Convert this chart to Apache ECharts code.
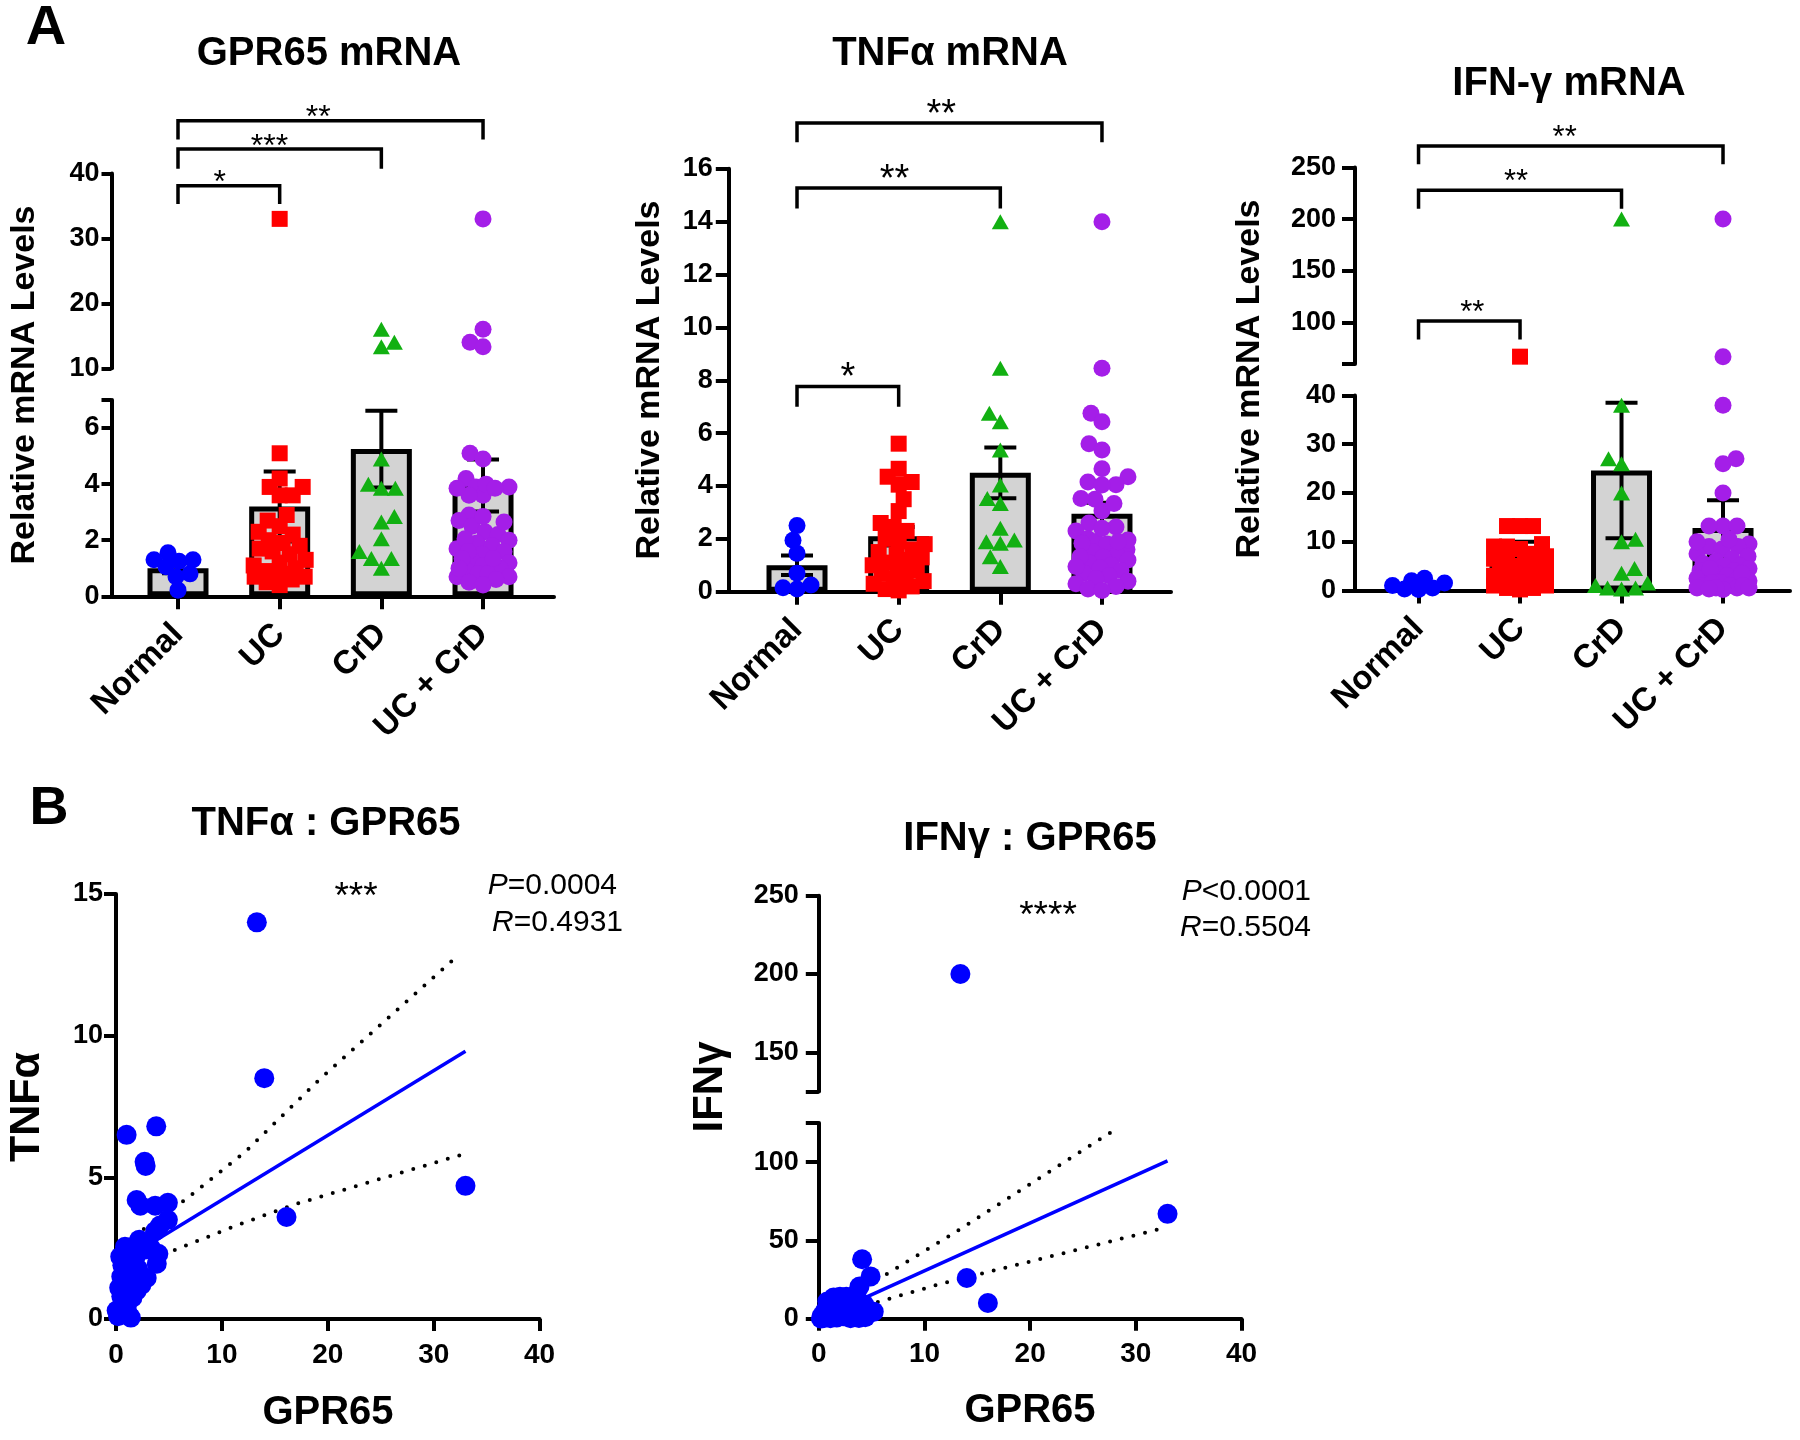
<!DOCTYPE html>
<html><head><meta charset="utf-8">
<script src="https://cdn.jsdelivr.net/npm/echarts@6/dist/echarts.min.js"></script>
<style>html,body{margin:0;padding:0;background:#fff}#c{width:1800px;height:1440px}</style>
</head><body><div id="c"></div><script>
// ---------------- DATA ----------------
const categories = ['Normal', 'UC', 'CrD', 'UC + CrD'];

// A: GPR65 mRNA
const gprNormal = [1.3, 1.25, 1.05, 1.55, 1.3, 0.8, 0.7, 0.22];
const gprUC = [33, 5.1, 4.2, 3.9, 3.9, 3.6, 3.6, 2.9, 2.7, 2.5, 2.3, 2.2, 2.0, 1.9, 1.8, 1.7, 1.6, 1.5, 1.3, 1.2, 1.1, 1.0, 0.9, 0.8, 0.8, 0.7, 0.7, 0.6, 0.5, 0.4];
const gprCrD = [16.0, 14.0, 13.3, 4.9, 4.0, 3.85, 3.85, 2.85, 2.65, 2.05, 1.6, 1.35, 1.35, 1.0];
const gprMean = [1.0, 3.2, 5.25, 3.95];
const gprSem = [0.18, 1.25, 1.37, 0.93];

// A: TNFa mRNA
const tnfNormal = [2.5, 1.95, 1.45, 0.7, 0.25, 0.15, 0.1];
const tnfUC = [5.6, 4.65, 4.35, 4.15, 4.05, 3.5, 3.05, 2.6, 2.45, 2.3, 2.0, 1.9, 1.8, 1.6, 1.5, 1.4, 1.3, 1.2, 1.1, 1.0, 0.9, 0.8, 0.7, 0.6, 0.5, 0.4, 0.3, 0.2, 0.1, 0.05];
const tnfCrD = [14, 8.45, 6.75, 6.43, 5.36, 4.04, 3.53, 3.34, 2.4, 1.96, 1.89, 1.83, 1.32, 0.95];
const tnfMean = [1.0, 2.1, 4.5, 2.95];
const tnfSem = [0.37, 0.35, 0.96, 0.42];

// A: IFN-g mRNA
const ifnNormal = [2.5, 2.0, 1.5, 1.0, 0.5, 0.3, 0.2];
const ifnUC = [67, 13.2, 13.2, 13.2, 9.5, 9.0, 9.0, 8.5, 7.5, 7, 6.5, 6, 5.5, 5, 5, 4.5, 4, 4, 3.5, 3, 3, 2.5, 2, 2, 1.5, 1, 1, 0.5, 0.5, 0.2];
const ifnCrD = [200, 38, 27, 26, 20, 10.5, 10, 4.5, 3.5, 1.5, 1, 0.5, 0.5, 0.3];
const ifnMean = [1.0, 7.2, 24.6, 12.8];
const ifnSem = [0.35, 2.8, 13.9, 5.7];

// tick values
const gprLowerTicks = [0, 2, 4, 6, 7], gprLowerLabels = [0, 2, 4, 6];
const gprUpperTicks = [10, 20, 30, 40];
const tnfTicks = [0, 2, 4, 6, 8, 10, 12, 14, 16];
const ifnLowerTicks = [0, 10, 20, 30, 40];
const ifnUpperTicks = [60, 100, 150, 200, 250], ifnUpperLabels = [100, 150, 200, 250];
const bTnfTicks = [0, 5, 10, 15];
const bIfnLowerTicks = [0, 50, 100, 125], bIfnLowerLabels = [0, 50, 100];
const bIfnUpperTicks = [125, 150, 200, 250], bIfnUpperLabels = [150, 200, 250];
const gprXTicks = [0, 10, 20, 30, 40];

// significance brackets: [fromCat, toCat, lineValue, tipValue, labelX]
const gprBrackets = [[0, 1, 38.1, 35.3, 0.41], [0, 2, 43.75, 40.7, 0.9], [0, 3, 48.1, 45.2, 1.38]];
const gprStars = ['*', '***', '**'];
const tnfBrackets = [[0, 1, 7.76, 7.0, 0.5], [0, 2, 15.27, 14.5, 0.96], [0, 3, 17.73, 17.0, 1.42]];
const tnfStars = ['*', '**', '**'];
const ifnBrackets = [[0, 1, 101.5, 83.6, 0.53], [0, 2, 227.8, 210, 0.96], [0, 3, 270.7, 253, 1.44]];
const ifnStars = ['**', '**', '**'];

// B: TNFa vs GPR65 [GPR65, TNFa]
const tnfVsGpr = [
  [13.3, 14.0], [14.0, 8.5], [33.0, 4.7], [16.1, 3.6],
  [1.0, 6.5], [3.8, 6.8], [2.7, 5.55], [2.8, 5.4], [1.95, 4.2], [2.3, 4.0], [3.7, 4.0], [4.9, 4.1], [4.9, 3.5], [4.15, 3.3], [3.7, 3.1],
  [0.85, 2.55], [1.6, 2.55], [2.75, 2.45], [4.0, 2.3], [3.85, 1.95], [0.4, 2.2], [1.2, 1.95], [2.1, 1.75], [2.9, 1.45], [0.5, 1.5],
  [1.3, 1.15], [1.95, 1.0], [0.5, 0.8], [1.55, 0.75], [0.06, 0.3], [1.2, 0.15], [0.7, 0.55], [0.3, 1.1], [0.9, 1.3], [1.6, 1.6],
  [2.4, 1.2], [1.0, 0.4], [0.2, 0.1], [1.4, 0.05], [0.6, 1.9], [1.8, 2.1], [2.2, 2.8], [3.3, 2.5]
];
const tnfFit = [[0.1, 1.94], [33, 9.45]];
const tnfCiUpper = [[1.64, 2.97], [2.74, 3.2], [6.5, 4.2], [12.2, 5.9], [19.2, 8.45], [32.5, 12.9]];
const tnfCiLower = [[4.5, 2.28], [5.57, 2.44], [11.08, 3.26], [16.74, 4.03], [33, 5.84]];

// B: IFNg vs GPR65 [GPR65, IFNg]
const ifnVsGpr = [
  [13.4, 200], [33, 67], [14, 26], [16, 10],
  [4.1, 38], [4.9, 27], [3.85, 20.5], [2.0, 14], [1.4, 13.5], [2.6, 14], [3.4, 15], [5.2, 4.5],
  [0.3, 2], [0.6, 5], [0.9, 8], [1.2, 3], [1.5, 10], [1.8, 6], [2.2, 9], [2.5, 4], [2.8, 11], [3.1, 7], [3.3, 2], [3.6, 5],
  [3.8, 0.5], [4.3, 9], [4.6, 3], [0.5, 0.5], [1.0, 1], [1.7, 0.8], [2.4, 1.5], [3.0, 0.3], [0.2, 0.2], [0.8, 11], [1.3, 6.5],
  [2.0, 2.5], [2.9, 13], [3.7, 12], [4.0, 3.5], [4.4, 1], [1.1, 0.3]
];
const ifnFit = [[0.1, 0.4], [33, 100.8]];
const ifnCiUpper = [[4.5, 20.5], [12.25, 52.4], [28.4, 122.4]];
const ifnCiLower = [[4.5, 8.5], [11.5, 22.2], [32.6, 57.8]];

// ---------------- STYLE / LAYOUT ----------------
const FONT = '"Liberation Sans", Arial, Helvetica, sans-serif';
const COLORS = ['#0000ff', '#ff0000', '#12b012', '#a41ee8'];
const SYMBOLS = ['circle', 'rect', 'triangle', 'circle'];
const SIZES = [17, 16, [17, 15], 17];

const grids = [], xAxes = [], yAxes = [], series = [];

function yAxisDef(gi, sg, p) {
  return {
    gridIndex: gi, type: 'value', min: sg.min, max: sg.max,
    axisLine: { show: true, onZero: false, lineStyle: { color: '#000', width: 4 } },
    axisTick: { show: true, length: p.yTickLen, customValues: sg.ticks, lineStyle: { color: '#000', width: 4 } },
    axisLabel: { show: true, customValues: sg.labels || sg.ticks, margin: p.yLabelMargin, color: '#000', fontWeight: 'bold', fontSize: 27, fontFamily: FONT },
    splitLine: { show: false }
  };
}

function segOf(segs, v) {
  for (let k = 0; k < segs.length; k++) if (v >= segs[k].min - 1e-9 && v <= segs[k].max + 1e-9) return k;
  return v > segs[0].max ? segs.length - 1 : 0;
}
function segPy(segs, v) {
  const s = segs[segOf(segs, v)];
  return s.top + s.height * (1 - (v - s.min) / (s.max - s.min));
}
function swarm(values, segs, size, maxOff) {
  const order = values.map((v, i) => i).sort((a, b) => values[a] - values[b]);
  const placed = [], offs = new Array(values.length).fill(0);
  const minD = size * 0.8;
  order.forEach((i, n) => {
    const py = segPy(segs, values[i]);
    let best = 0, bestD = -1;
    const sgn = n % 2 ? -1 : 1;
    search:
    for (let k = 0; k <= maxOff; k += 1) {
      const cands = k === 0 ? [0] : [sgn * k, -sgn * k];
      for (const c of cands) {
        let d = Infinity;
        for (const p of placed) d = Math.min(d, Math.hypot(p[0] - c, p[1] - py));
        if (d >= minD) { best = c; break search; }
        if (d > bestD) { bestD = d; best = c; }
      }
    }
    placed.push([best, py]); offs[i] = best;
  });
  return offs;
}

function errRender(params, api) {
  const x = api.value(0), m = api.value(1), s = api.value(2);
  const t = api.coord([x, m + s]), b = api.coord([x, m - s]);
  const hw = 16, st = { stroke: '#000', lineWidth: 4 };
  return { type: 'group', children: [
    { type: 'line', shape: { x1: t[0], y1: t[1], x2: b[0], y2: b[1] }, style: st },
    { type: 'line', shape: { x1: t[0] - hw, y1: t[1], x2: t[0] + hw, y2: t[1] }, style: st },
    { type: 'line', shape: { x1: b[0] - hw, y1: b[1], x2: b[0] + hw, y2: b[1] }, style: st }
  ] };
}
function bracketRender(stars, fs, gap) {
  return function (params, api) {
    const x1 = api.value(0), x2 = api.value(1), yl = api.value(2), yt = api.value(3), lx = api.value(4);
    const a = api.coord([x1, yt]), b = api.coord([x1, yl]), c = api.coord([x2, yl]), d = api.coord([x2, yt]);
    const t = api.coord([lx, yl]);
    return { type: 'group', children: [
      { type: 'polyline', shape: { points: [a, b, c, d] }, style: { stroke: '#000', lineWidth: 3.5, fill: null } },
      { type: 'text', x: t[0], y: t[1] - gap + 0.24 * fs,
        style: { text: stars[params.dataIndex], fontSize: fs, fontFamily: FONT, fill: '#000', align: 'center', verticalAlign: 'middle' } }
    ] };
  };
}

function barPanel(p) {
  const idx = [];
  p.segs.forEach((sg, k) => {
    const gi = grids.length; idx.push(gi);
    grids.push({ left: p.left, top: sg.top, width: p.width, height: sg.height, containLabel: false, outerBoundsMode: 'none' });
    xAxes.push({
      gridIndex: gi, type: 'value', min: p.xMin, max: p.xMax, show: k === 0,
      axisLine: { show: true, onZero: false, lineStyle: { color: '#000', width: 4 } },
      axisTick: { show: true, length: 13, customValues: [0, 1, 2, 3], lineStyle: { color: '#000', width: 4 } },
      axisLabel: { show: true, customValues: [0, 1, 2, 3], formatter: v => categories[Math.round(v)], rotate: 45, margin: 33,
        color: '#000', fontWeight: 'bold', fontSize: 33, fontFamily: FONT },
      splitLine: { show: false }
    });
    yAxes.push(yAxisDef(gi, sg, p));
  });
  const g0 = idx[0];
  series.push({ type: 'bar', xAxisIndex: g0, yAxisIndex: g0, data: p.means.map((m, k) => [k, m]), barWidth: 61,
    itemStyle: { color: '#d3d3d3', borderColor: '#000', borderWidth: 5, opacity: 1 }, z: 1, silent: true });
  series.push({ type: 'custom', xAxisIndex: g0, yAxisIndex: g0, data: p.means.map((m, k) => [k, m, p.sems[k]]),
    encode: { x: 0, y: 1 }, renderItem: errRender, z: 2, clip: false, silent: true });
  const pxX = p.width / (p.xMax - p.xMin);
  p.groups.forEach((vals, c) => {
    const sz = Array.isArray(SIZES[c]) ? Math.max(...SIZES[c]) : SIZES[c];
    const offs = swarm(vals, p.segs, sz, 26);
    p.segs.forEach((sg, k) => {
      const data = [];
      vals.forEach((v, i) => { if (segOf(p.segs, v) === k) data.push([c + offs[i] / pxX, v]); });
      if (data.length) series.push({ type: 'scatter', xAxisIndex: idx[k], yAxisIndex: idx[k], symbol: SYMBOLS[c], symbolSize: SIZES[c],
        itemStyle: { color: COLORS[c], opacity: 1 }, data, z: 4, clip: false, silent: true });
    });
  });
  const gt = idx[idx.length - 1];
  series.push({ type: 'custom', xAxisIndex: gt, yAxisIndex: gt, data: p.brackets, encode: { x: [0, 1, 4], y: [2, 3] },
    renderItem: bracketRender(p.stars, p.starSize, p.starGap), clip: false, z: 5, silent: true });
}

function scatterPanel(p) {
  const idx = [];
  p.segs.forEach((sg, k) => {
    const gi = grids.length; idx.push(gi);
    grids.push({ left: p.left, top: sg.top, width: p.width, height: sg.height, containLabel: false, outerBoundsMode: 'none' });
    xAxes.push({
      gridIndex: gi, type: 'value', min: 0, max: 40, show: k === 0,
      axisLine: { show: true, onZero: false, lineStyle: { color: '#000', width: 4 } },
      axisTick: { show: true, length: 12, customValues: gprXTicks, lineStyle: { color: '#000', width: 4 } },
      axisLabel: { show: true, customValues: gprXTicks, margin: 22, color: '#000', fontWeight: 'bold', fontSize: 28, fontFamily: FONT },
      splitLine: { show: false }
    });
    yAxes.push(yAxisDef(gi, sg, p));
  });
  const g0 = idx[0];
  const dot = { color: '#000', width: 4, type: [0, 12], cap: 'round', opacity: 1 };
  series.push({ type: 'line', xAxisIndex: g0, yAxisIndex: g0, data: p.ciU, symbol: 'none', lineStyle: dot, z: 1, silent: true, clip: false });
  series.push({ type: 'line', xAxisIndex: g0, yAxisIndex: g0, data: p.ciL, symbol: 'none', lineStyle: dot, z: 1, silent: true, clip: false });
  series.push({ type: 'line', xAxisIndex: g0, yAxisIndex: g0, data: p.fit, symbol: 'none', lineStyle: { color: '#0000ff', width: 3.5, opacity: 1 }, z: 2, silent: true });
  p.segs.forEach((sg, k) => {
    const data = p.points.filter(pt => segOf(p.segs, pt[1]) === k);
    series.push({ type: 'scatter', xAxisIndex: idx[k], yAxisIndex: idx[k], symbol: 'circle', symbolSize: 20,
      itemStyle: { color: '#0000ff', opacity: 1 }, data, z: 4, clip: false, silent: true });
  });
}

barPanel({
  left: 111.5, width: 442.5, xMin: -0.654, xMax: 3.698, yTickLen: 10, yLabelMargin: 12,
  segs: [
    { min: 0, max: 7, top: 400, height: 196.3, ticks: gprLowerTicks, labels: gprLowerLabels },
    { min: 10, max: 40, top: 173.4, height: 194.9, ticks: gprUpperTicks }
  ],
  groups: [gprNormal, gprUC, gprCrD, gprUC.concat(gprCrD)], means: gprMean, sems: gprSem,
  brackets: gprBrackets, stars: gprStars, starSize: 32, starGap: 10
});
barPanel({
  left: 728.8, width: 442.2, xMin: -0.671, xMax: 3.679, yTickLen: 13, yLabelMargin: 16,
  segs: [{ min: 0, max: 16, top: 168.8, height: 422.9, ticks: tnfTicks }],
  groups: [tnfNormal, tnfUC, tnfCrD, tnfUC.concat(tnfCrD)], means: tnfMean, sems: tnfSem,
  brackets: tnfBrackets, stars: tnfStars, starSize: 38, starGap: 17
});
barPanel({
  left: 1355, width: 435, xMin: -0.626, xMax: 3.66, yTickLen: 13, yLabelMargin: 19,
  segs: [
    { min: 0, max: 40, top: 395.4, height: 195, ticks: ifnLowerTicks },
    { min: 60, max: 250, top: 167.4, height: 196.5, ticks: ifnUpperTicks, labels: ifnUpperLabels }
  ],
  groups: [ifnNormal, ifnUC, ifnCrD, ifnUC.concat(ifnCrD)], means: ifnMean, sems: ifnSem,
  brackets: ifnBrackets, stars: ifnStars, starSize: 31, starGap: 15
});
scatterPanel({
  left: 116, width: 423.6, yTickLen: 12, yLabelMargin: 13,
  segs: [{ min: 0, max: 15, top: 894, height: 425, ticks: bTnfTicks }],
  points: tnfVsGpr, fit: tnfFit, ciU: tnfCiUpper, ciL: tnfCiLower
});
scatterPanel({
  left: 818.8, width: 422.7, yTickLen: 13, yLabelMargin: 20,
  segs: [
    { min: 0, max: 125, top: 1123, height: 195.7, ticks: bIfnLowerTicks, labels: bIfnLowerLabels },
    { min: 125, max: 250, top: 895.7, height: 195.7, ticks: bIfnUpperTicks, labels: bIfnUpperLabels }
  ],
  points: ifnVsGpr, fit: ifnFit, ciU: ifnCiUpper, ciL: ifnCiLower
});

// ---------------- TEXT ----------------
const texts = [
  { t: 'A', x: 46, y: 29, size: 56, bold: true },
  { t: 'B', x: 49, y: 809, size: 54, bold: true },
  { t: 'GPR65 mRNA', x: 329, y: 54, size: 40, bold: true },
  { t: 'TNFα mRNA', x: 950, y: 54, size: 40, bold: true },
  { t: 'IFN-γ mRNA', x: 1569, y: 84, size: 40, bold: true },
  { t: 'TNFα : GPR65', x: 326, y: 824, size: 40, bold: true },
  { t: 'IFNγ : GPR65', x: 1030, y: 839, size: 40, bold: true },
  { t: 'Relative mRNA Levels', x: 25, y: 385, size: 34, bold: true, rot: true },
  { t: 'Relative mRNA Levels', x: 650, y: 380, size: 34, bold: true, rot: true },
  { t: 'Relative mRNA Levels', x: 1250, y: 379, size: 34, bold: true, rot: true },
  { t: 'TNFα', x: 27, y: 1107, size: 43, bold: true, rot: true },
  { t: 'IFNγ', x: 710, y: 1087, size: 42, bold: true, rot: true },
  { t: 'GPR65', x: 328, y: 1413, size: 40, bold: true },
  { t: 'GPR65', x: 1030, y: 1411, size: 40, bold: true },
  { t: '***', x: 356, y: 898, size: 37 },
  { t: '****', x: 1048, y: 917, size: 37 },
  { t: '{i|P}=0.0004', x: 617, y: 886, size: 30, align: 'right' },
  { t: '{i|R}=0.4931', x: 623, y: 923, size: 30, align: 'right' },
  { t: '{i|P}<0.0001', x: 1311, y: 892, size: 30, align: 'right' },
  { t: '{i|R}=0.5504', x: 1311, y: 928, size: 30, align: 'right' }
];
const graphics = texts.map(o => ({
  type: 'text', x: o.x, y: o.y, rotation: o.rot ? Math.PI / 2 : 0, silent: true,
  style: {
    text: o.t, fontSize: o.size, fontWeight: o.bold ? 'bold' : 'normal', fontFamily: FONT, fill: '#000',
    align: o.align || 'center', verticalAlign: 'middle',
    rich: { i: { fontStyle: 'italic', fontSize: o.size, fontFamily: FONT, fill: '#000' } }
  }
}));

const chart = echarts.init(document.getElementById('c'), null, { renderer: 'canvas' });
chart.setOption({
  animation: false,
  backgroundColor: '#ffffff',
  textStyle: { fontFamily: FONT },
  grid: grids, xAxis: xAxes, yAxis: yAxes, series: series, graphic: graphics
});
</script></body></html>
